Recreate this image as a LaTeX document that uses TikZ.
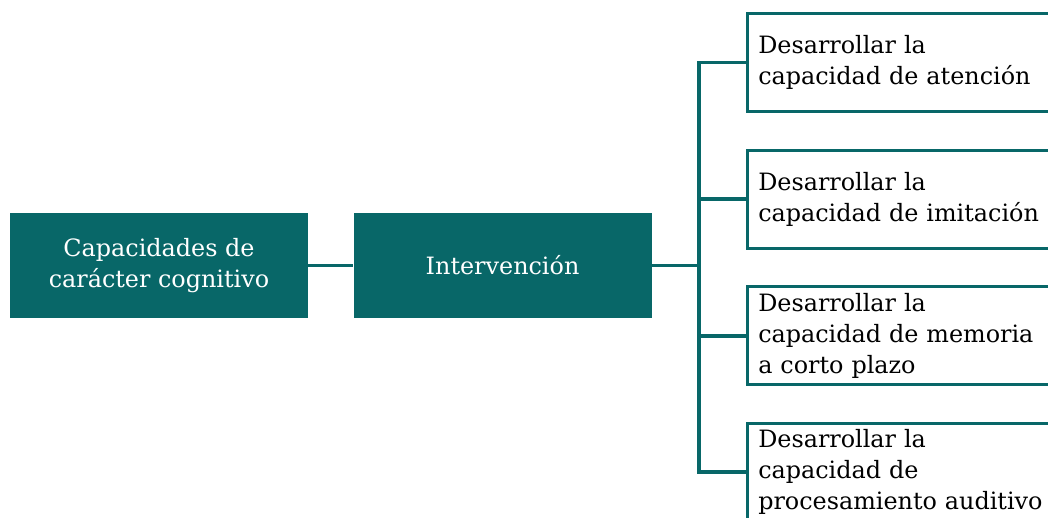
\documentclass[tikz,border=0pt]{standalone}
\usepackage{fontspec}
\setmainfont{DejaVu Serif}
\usepackage{tikz}
\usetikzlibrary{positioning}
\definecolor{tealdark}{RGB}{8,103,104}

\begin{document}
\begin{tikzpicture}[
			x=0.75pt, y=-0.75pt,
			node distance=26.5pt,
			font=\fontsize{17.9}{23.25}\selectfont,
			darkbox/.style={
				rectangle,
				fill=tealdark,
				text=white,
				align=center,
				inner sep=0pt,
				minimum width=223.5pt,
				minimum height=78.75pt
			},
			task/.style={
				rectangle,
				draw=tealdark,
				line width=2.4pt,
				fill=white,
				align=left,
				inner xsep=8pt,
				text width=230pt,
				minimum width=246pt,
				minimum height=73.5pt
			},
			link/.style={
				draw=tealdark,
				line width=2.8pt,
				line join=miter
			}
			]
			\useasboundingbox (0,0) rectangle (1048,517);
			\clip (0,0) rectangle (1048,517);
			
			% We start by placing the blocks
			\node [darkbox] (capac) at (159,265.5) {Capacidades de\\carácter cognitivo};
			\node [darkbox, right=33.75pt of capac] (interv) {Intervención};
			
			\node [task, anchor=north west] (atencion) at (746,12)
			{Desarrollar la\\capacidad de atención};
			\node [task, below=of atencion] (imitacion)
			{Desarrollar la\\capacidad de imitación};
			\node [task, below=of imitacion] (memoria)
			{Desarrollar la\\capacidad de memoria\\a corto plazo};
			\node [task, below=of memoria] (auditivo)
			{Desarrollar la\\capacidad de\\procesamiento auditivo};
			
			% connectors
			\draw [link] (capac) -- (interv);
			\draw [link] (interv.east) -- ++(35.25pt,0) coordinate (trunk);
			\draw [link] (atencion.west) -| (trunk) |- (auditivo.west);
			\draw [link] (imitacion.west) -- (imitacion.west -| trunk);
			\draw [link] (memoria.west) -- (memoria.west -| trunk);
			
\end{tikzpicture}
\end{document}
